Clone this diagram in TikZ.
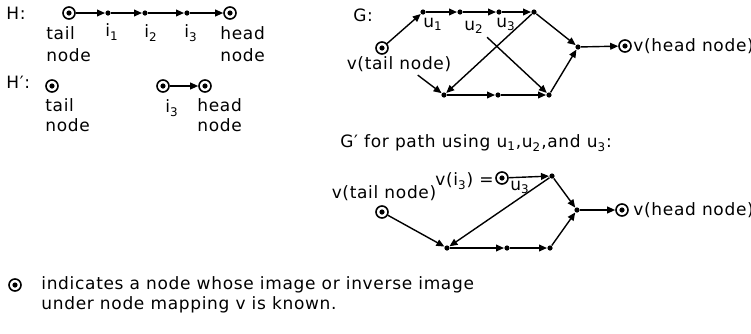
\documentclass[tikz,border=0pt]{standalone}
\usepackage{fontspec}
\setmainfont{DejaVu Sans}[LetterSpace=4.0]
\usetikzlibrary{shapes.geometric, arrows.meta}
\tikzstyle{known} = [circle, draw=black, line width=0.8pt, minimum size=6pt, inner sep=0pt, path picture={\fill (path picture bounding box.center) circle (1.3pt);}]
\tikzstyle{dot} = [circle, fill=black, minimum size=2.6pt, inner sep=0pt]
\tikzstyle{lbl} = [inner sep=0pt, align=left]
\tikzstyle{arrow} = [line width=0.7pt,->,>={Stealth[length=4pt,width=3.4pt,inset=0pt]}]

\begin{document}
\begin{tikzpicture}[x=0.5pt, y=-0.5pt, node distance=20pt, font=\fontsize{8.5}{10}\selectfont]
\useasboundingbox (0,0) rectangle (751,333);

% H
\node (Hlab) [lbl, anchor=west] at (6,13) {H:};
\node (tl) [known] at (69,13) {};
\node (i1) [dot, right of=tl, xshift=-0.5pt] {};
\node (i2) [dot, right of=i1, xshift=-1.5pt] {};
\node (i3) [dot, right of=i2, xshift=1pt] {};
\node (hd) [known, right of=i3, xshift=1.5pt] {};
\node (tllab) [lbl, anchor=north west] at (46,26) {tail\\[1pt]node};
\node (i1lab) [lbl] at (112,32) {i\textsubscript{1}};
\node (i2lab) [lbl] at (151,33) {i\textsubscript{2}};
\node (i3lab) [lbl] at (191,33) {i\textsubscript{3}};
\node (hdlab) [lbl, anchor=north west] at (220,26) {head\\[1pt]node};

\draw [arrow] (tl) -- (i1);
\draw [arrow] (i1) -- (i2);
\draw [arrow] (i2) -- (i3);
\draw [arrow] (i3) -- (hd);

% H'
\node (H2lab) [lbl, anchor=west] at (6,82) {H′:};
\node (ht) [known] at (52,86) {};
\node (hi3) [known] at (163,86) {};
\node (hh) [known, right of=hi3, xshift=1pt] {};
\node (htlab) [lbl, anchor=north west] at (45,98) {tail\\node};
\node (hi3lab) [lbl] at (172,108) {i\textsubscript{3}};
\node (hhlab) [lbl, anchor=north west] at (197,98) {head\\node};

\draw [arrow] (hi3) -- (hh);

% G
\node (Glab) [lbl, anchor=west] at (353,15) {G:};
\node (gs) [known] at (382,48) {};
\node (u1) [dot] at (423,12) {};
\node (u2) [dot, right of=u1, xshift=-1.5pt] {};
\node (u3) [dot, right of=u2, xshift=-0.5pt] {};
\node (gtr) [dot, right of=u3, xshift=-2.5pt] {};
\node (gmr) [dot] at (578,47) {};
\node (gh) [known] at (625,46) {};
\node (gbl) [dot] at (444,95) {};
\node (gbm) [dot] at (498,95) {};
\node (gbr) [dot] at (549,95) {};
\node (u1lab) [lbl] at (433,24) {u\textsubscript{1}};
\node (u2lab) [lbl] at (474,27) {u\textsubscript{2}};
\node (u3lab) [lbl] at (506,24) {u\textsubscript{3}};
\node (gslab) [lbl] at (399,64) {v(tail node)};
\node (ghlab) [lbl, anchor=west] at (633,46) {v(head node)};

\draw [arrow] (gs) -- (u1);
\draw [arrow] (u1) -- (u2);
\draw [arrow] (u2) -- (u3);
\draw [arrow] (u3) -- (gtr);
\draw [arrow] (gtr) -- (gmr);
\draw [arrow] (gmr) -- (gh);
\draw [arrow] (gtr) -- (gbl);
\draw [arrow, shorten <=17pt] (u2) -- (gbr);
\draw [arrow, shorten <=19pt] (gs) -- (gbl);
\draw [arrow] (gbl) -- (gbm);
\draw [arrow] (gbm) -- (gbr);
\draw [arrow] (gbr) -- (gmr);

% G'
\node (G2lab) [lbl, anchor=west] at (340,143) {G′ for path using u\textsubscript{1},u\textsubscript{2},and u\textsubscript{3}:};
\node (ts) [known] at (382,212) {};
\node (c3) [known] at (502,178) {};
\node (ptr) [dot] at (552,176) {};
\node (pmr) [dot] at (577,210) {};
\node (ph) [known] at (622,210) {};
\node (pbl) [dot] at (447,248) {};
\node (pbm) [dot] at (507,248) {};
\node (pbr) [dot] at (550,248) {};
\node (tslab) [lbl] at (384,193) {v(tail node)};
\node (c3lab) [lbl, anchor=east] at (494,181) {v(i\textsubscript{3}) =};
\node (u3lab2) [lbl] at (520,187) {u\textsubscript{3}};
\node (phlab) [lbl, anchor=west] at (633,210) {v(head node)};

\draw [arrow] (ts) -- (pbl);
\draw [arrow] (c3) -- (ptr);
\draw [arrow] (ptr) -- (pmr);
\draw [arrow] (ptr) -- (pbl);
\draw [arrow] (pbl) -- (pbm);
\draw [arrow] (pbm) -- (pbr);
\draw [arrow] (pbr) -- (pmr);
\draw [arrow] (pmr) -- (ph);

% key
\node (key) [known] at (15,285) {};
\node (keylab) [lbl, anchor=west] at (41,295) {indicates a node whose image or inverse image\\under node mapping v is known.};

\end{tikzpicture}
\end{document}
